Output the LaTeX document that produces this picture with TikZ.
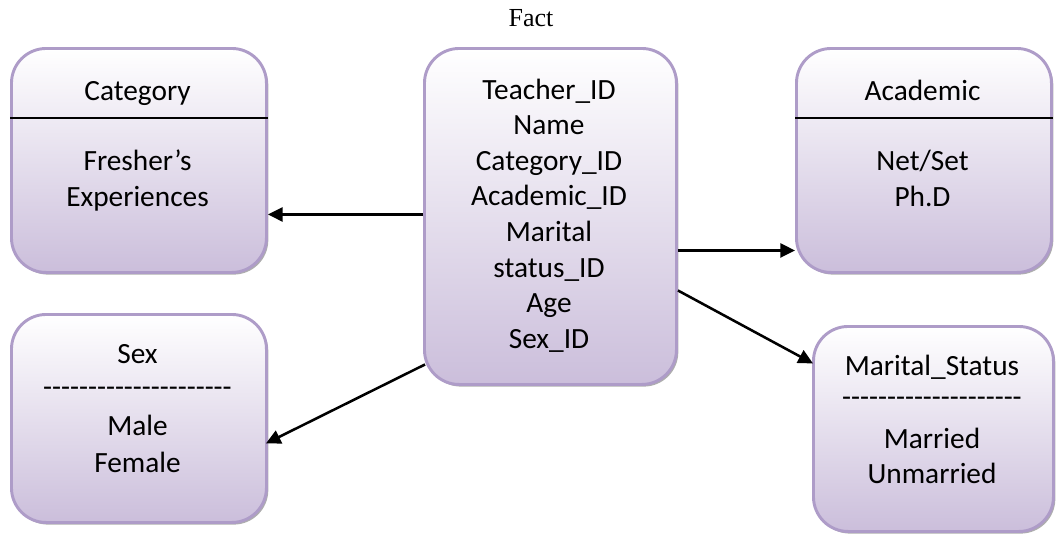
\documentclass[tikz,border=0pt]{standalone}
\usepackage{fontspec}
\setmainfont{Carlito}
\newfontfamily\factfont{Liberation Serif}
\usetikzlibrary{arrows.meta,shadows,calc}
\definecolor{boxborder}{HTML}{AE9CC8}
\definecolor{boxbottom}{HTML}{CBBEDB}
\newcommand\dashrow[1]{\foreach\k in {1,...,#1}{-\kern0pt}}
\tikzset{
  tbl/.style={rounded corners=26pt, draw=boxborder, line width=2.2pt,
    top color=white, bottom color=boxbottom, anchor=north west, inner sep=0pt,
    drop shadow={shadow xshift=1.4pt, shadow yshift=-1.6pt, fill=black!45, opacity=0.7}},
  txt/.style={anchor=base, inner sep=0pt, font=\fontsize{22}{26.7}\selectfont},
  conn/.style={line width=1.9pt, -{Triangle[length=11pt,width=10.5pt]}},
}
\begin{document}
\begin{tikzpicture}[x=0.75pt,y=-0.75pt]
\useasboundingbox (0,0) rectangle (1057,536);

% boxes
\node[tbl, minimum width=191.25pt, minimum height=168pt] (cat) at (10,47) {};
\node[tbl, minimum width=189pt, minimum height=252pt] (fact) at (423,47) {};
\node[tbl, minimum width=191.25pt, minimum height=168pt] (acad) at (795,47) {};
\node[tbl, minimum width=191.25pt, minimum height=156pt] (sex) at (10,313) {};
\node[tbl, minimum width=180pt, minimum height=153.75pt] (mar) at (812,325) {};

% title
\node[anchor=base, inner sep=0pt, font=\factfont\fontsize{19.5}{22}\selectfont] (title) at (531,26) {Fact};

% category
\node[txt] (catT) at (137.5,100) {Category};
\draw[line width=1.2pt] (cat.west |- 0,118) -- (cat.east |- 0,118);
\node[txt] (catA) at (137.5,170) {Fresher’s};
\node[txt] (catB) at (137.5,206) {Experiences};

% fact
\node[txt] (f1) at (549,99) {Teacher\_ID};
\node[txt] (f2) at (549,134.6) {Name};
\node[txt] (f3) at (549,170.2) {Category\_ID};
\node[txt] (f4) at (549,205.8) {Academic\_ID};
\node[txt] (f5) at (549,241.4) {Marital};
\node[txt] (f6) at (549,277) {status\_ID};
\node[txt] (f7) at (549,312.6) {Age};
\node[txt] (f8) at (549,348.2) {Sex\_ID};

% academic
\node[txt] (acT) at (922.5,100) {Academic};
\draw[line width=1.2pt] (acad.west |- 0,118) -- (acad.east |- 0,118);
\node[txt] (acA) at (922.5,170) {Net/Set};
\node[txt] (acB) at (922.5,206) {Ph.D};

% sex
\node[txt] (sxT) at (137.5,363) {Sex};
\node[txt] (sxD) at (137.5,396) {\dashrow{21}};
\node[txt] (sxA) at (137.5,435) {Male};
\node[txt] (sxB) at (137.5,472) {Female};

% marital
\node[txt] (mrT) at (932,375) {Marital\_Status};
\node[txt] (mrD) at (932,406) {\dashrow{20}};
\node[txt] (mrA) at (932,448) {Married};
\node[txt] (mrB) at (932,483) {Unmarried};

% connector end points
\coordinate (s1) at ($(fact.west)+(0,-2)$);
\coordinate (e1) at (s1 -| cat.east);
\coordinate (s2) at ($(fact.east)+(0,34)$);
\coordinate (e2) at (s2 -| acad.west);
\coordinate (s3) at ($(fact.east)+(0,74)$);
\coordinate (e3) at ($(mar.west)+(1,-65.5)$);
\coordinate (s4) at ($(fact.west)+(2,148)$);
\coordinate (e4) at ($(sex.east)+(-2,25)$);

% connectors
\draw[conn] (s1) -- (e1);
\draw[conn] (s2) -- (e2);
\draw[conn] (s3) -- (e3);
\draw[conn] (s4) -- (e4);
\end{tikzpicture}
\end{document}
